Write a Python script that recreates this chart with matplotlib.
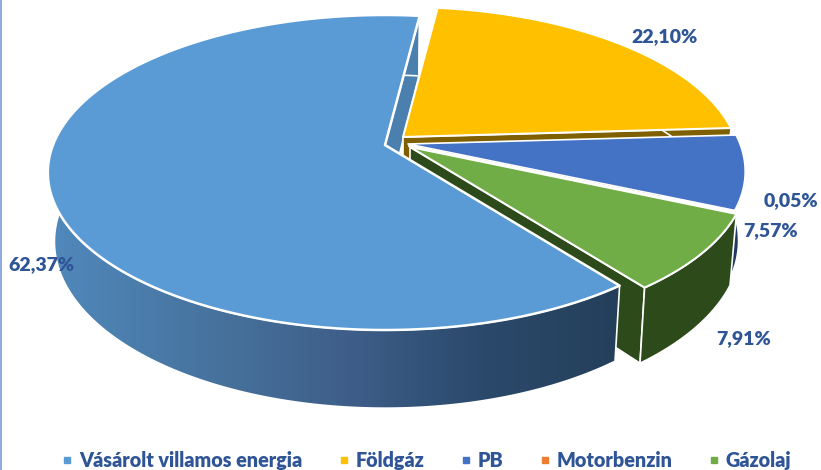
import matplotlib
matplotlib.use("Agg")
import matplotlib.pyplot as plt
import numpy as np
from matplotlib.colors import LinearSegmentedColormap
from matplotlib.lines import Line2D
from matplotlib.patches import Polygon

# shares as printed on the chart
categories = ["Vásárolt villamos energia", "Földgáz", "PB", "Motorbenzin", "Gázolaj"]
values = [62.37, 22.10, 7.57, 0.05, 7.91]
value_labels = ["62,37%", "22,10%", "7,57%", "0,05%", "7,91%"]

# styling, same order as categories
top_colors = ["#5B9BD5", "#FFC000", "#4472C4", "#ED7D31", "#70AD47"]
wall_colors = ["#4A7FAE", "#7F6000", "#203864", "#843C0C", "#2D4A1B"]
shift = [(0, 0), (18, -8), (23, -1), (24, 1), (25, 2)]  # exploded slices, in pixels
label_pos = [(41, 265), (664, 37), (771, 231), (791, 201), (744, 339)]

TEXT = "#2F5597"
START = 142.5  # first slice angle, clockwise from north

# camera: disc radius 1 seen in perspective, pixels of the 821x470 picture
CX, CY = 385, 145
A, B, K = 332, 152.7, 0.1746
H, SHRINK = 67.5, 0.02

plt.rcParams["font.family"] = ["Lato", "DejaVu Sans"]


def project(xs, ys, z):
    w = 1 + K * ys
    s = 1 + SHRINK * z
    return CX + A * xs / (w * s), CY - B * ys / (w * s) + H * z / w


def arc(t0, t1, z, n=120, off=(0, 0)):
    th = np.radians(np.linspace(t0, t1, n))
    px, py = project(np.sin(th), np.cos(th), z)
    return np.column_stack([px + off[0], py + off[1]])


def apex(z, off=(0, 0)):
    px, py = project(np.zeros(1), np.zeros(1), z)
    return np.column_stack([px + off[0], py + off[1]])


fig = plt.figure(figsize=(8.21, 4.70), dpi=100, facecolor="white")
ax = fig.add_axes([0, 0, 1, 1])

order = [0]


def poly(pts, color, lw=1.5):
    order[0] += 1
    ax.add_patch(Polygon(pts, closed=True, facecolor=color, edgecolor="white",
                         linewidth=lw, joinstyle="round", zorder=order[0]))


def end_wall(t0, t1, color, off):
    # flat cut face at the clockwise end of a slice
    pts = [apex(0, off), arc(t0, t1, 0, off=off)[-1:], arc(t0, t1, 1, off=off)[-1:], apex(1, off)]
    poly(np.vstack(pts), color, 1.2)


shares = np.array(values) / sum(values) * 360
starts = START + np.concatenate([[0], np.cumsum(shares)[:-1]])
ends = starts + shares

# main slice cut face sits behind everything else
end_wall(starts[0], ends[0], wall_colors[0], shift[0])

# PB and motorbenzin show no cut face, only the white gap
for i in [1, 2, 3, 4]:
    t0, t1, off = starts[i], ends[i], shift[i]
    if i in (1, 4):
        end_wall(t0, t1, wall_colors[i], off)
    if i != 3:
        poly(np.vstack([arc(t0, t1, 0, off=off), arc(t0, t1, 1, off=off)[::-1]]), wall_colors[i], 1.2)
    poly(np.vstack([apex(0, off), arc(t0, t1, 0, off=off)]), top_colors[i], 1.2 if i == 2 else 1.5)

# main slice outer wall with its left-right shading
t0, t1 = starts[0], ends[0]
wall = np.vstack([arc(t0, t1, 0, 300), arc(t0, t1, 1, 300)[::-1]])
shade = LinearSegmentedColormap.from_list(
    "wall", [(0, "#5089BC"), (0.32, "#46709A"), (0.55, "#3D5C87"), (0.75, "#2B4A6C"), (1, "#243F5A")])
order[0] += 1
patch = Polygon(wall, closed=True, facecolor="none", edgecolor="white", linewidth=1.2, zorder=order[0] + 1)
ax.add_patch(patch)
img = ax.imshow(np.linspace(0, 1, 256)[None, :], cmap=shade, extent=[48, 620, 420, 150],
                aspect="auto", zorder=order[0])
img.set_clip_path(patch)
order[0] += 1
poly(np.vstack([apex(0), arc(t0, t1, 0, 300)]), top_colors[0], 1.8)

for pos, txt in zip(label_pos, value_labels):
    ax.text(pos[0], pos[1], txt, color=TEXT, fontsize=14, fontweight="heavy",
            ha="center", va="center", zorder=50)

# chart frame shows only on the left
ax.plot([1, 1], [0, 470], color="#8FAADC", lw=1.5, zorder=60)

handles = [Line2D([], [], linestyle="none", marker="s", markersize=5, color=c) for c in top_colors]
leg = ax.legend(handles, categories, loc="lower left", bbox_to_anchor=(62 / 821, 0.0), ncol=5,
                frameon=False, labelcolor=TEXT, prop={"weight": "heavy", "size": 14.2},
                handlelength=0.55, handletextpad=0.3, columnspacing=1.85, borderpad=0, borderaxespad=0)

ax.set_xlim(0, 821)
ax.set_ylim(470, 0)
ax.axis("off")

fig.savefig("out.png", dpi=100, facecolor="white")
plt.close(fig)
